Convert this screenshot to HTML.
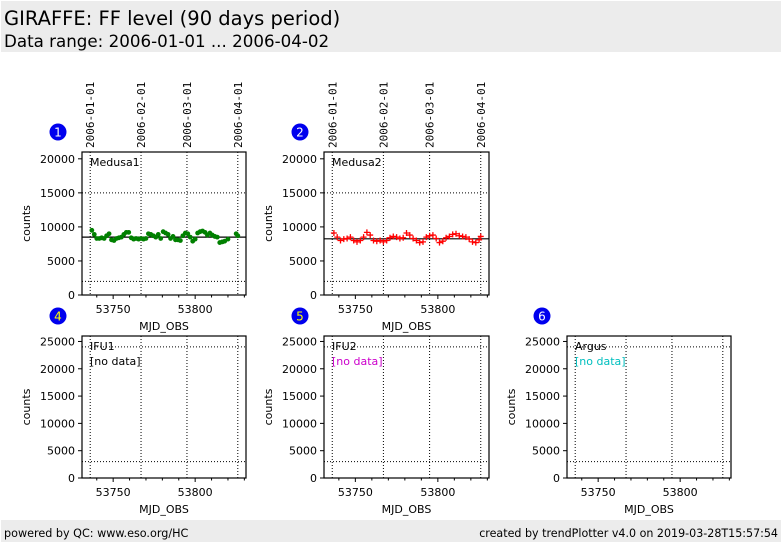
<!DOCTYPE html>
<html><head><meta charset="utf-8"><style>
body{margin:0;width:782px;height:542px;background:#fff;overflow:hidden;font-family:"Liberation Sans","DejaVu Sans",sans-serif}
svg text{font-family:"DejaVu Sans","Liberation Sans",sans-serif}
</style></head><body>
<svg id="c" width="782" height="542">
<rect x="1" y="1" width="780" height="51" fill="#ececec"/>
<text x="4" y="25" font-size="19.5" fill="#000" style="font-family:'DejaVu Sans','Liberation Sans',sans-serif">GIRAFFE: FF level (90 days period)</text>
<text x="4" y="47" font-size="16.7" fill="#000" style="font-family:'DejaVu Sans','Liberation Sans',sans-serif">Data range: 2006-01-01 ... 2006-04-02</text>
<rect x="1" y="520" width="780" height="22" fill="#ececec"/>
<text x="4" y="537" font-size="11.2" style="font-family:'DejaVu Sans','Liberation Sans',sans-serif">powered by QC: www.eso.org/HC</text>
<text x="778" y="537" font-size="11.1" text-anchor="end" style="font-family:'DejaVu Sans','Liberation Sans',sans-serif">created by trendPlotter v4.0 on 2019-03-28T15:57:54</text>
</svg>
<script>
const m1Mjd=[53737,53738.5,53740,53741.5,53743,53744.5,53746,53747.5,53749,53750.5,53752,53753.5,53755,53756.5,53758,53759.5,53761,53762.5,53764,53765.5,53767,53768.5,53770,53771.5,53773,53774.5,53776,53777.5,53779,53780.5,53782,53783.5,53785,53786.5,53788,53789.5,53791,53792.5,53794,53795.5,53797,53798.5,53800,53801.5,53803,53804.5,53806,53807.5,53809,53810.5,53812,53813.5,53815,53816.5,53818,53820,53825,53826];
const m1Val=[9500,8900,8300,8300,8400,8300,8700,9000,8100,8000,8300,8400,8500,8900,9200,9200,8400,8200,8300,8200,8300,8200,8300,9000,8900,8700,8500,8900,8300,9300,9100,8900,8300,8600,8100,8100,8000,8700,9100,9000,8500,7900,8200,9100,9300,9400,9200,8800,9100,8800,8600,8500,7700,7800,7900,8200,9000,8700];
const m2Mjd=[53737,53739,53741,53743,53745,53747,53749,53751,53753,53755,53757,53759,53761,53763,53765,53767,53769,53771,53773,53775,53777,53779,53781,53783,53785,53787,53789,53791,53793,53795,53797,53799,53801,53803,53805,53807,53809,53811,53813,53815,53817,53819,53821,53823,53825,53826];
const m2Val=[9100,8500,8000,8200,8300,8500,8000,7800,8000,8500,9200,8800,8000,7900,8000,7800,8000,8400,8600,8500,8300,8400,9100,8800,8300,8000,7700,7800,8500,8700,8800,8300,7700,7900,8400,8600,8900,9000,8700,8600,8500,8200,7800,7700,8100,8600];
const xTicks=[53750,53800];
const dateLines=[53736,53767,53795,53826];
const dateLabels=['2006-01-01','2006-02-01','2006-03-01','2006-04-01'];
const topTicks=[0,5000,10000,15000,20000];
const botTicks=[0,5000,10000,15000,20000,25000];
const NS='http://www.w3.org/2000/svg';
const svg=document.getElementById('c');
function el(t,a,p){const e=document.createElementNS(NS,t);for(const k in a)e.setAttribute(k,a[k]);(p||svg).appendChild(e);return e;}
const X0=53731,X1=53831;
function panel(o){
 const g=el('g',{});
 
 
 const xs=v=>o.x+(v-X0)/(X1-X0)*o.w;
 const ys=v=>o.y+o.h-v/o.ymax*o.h;
 const b=el('circle',{cx:o.bx,cy:o.y-20,r:8.5,fill:'#0000ee'},g);
 
 const bt=el('text',{x:o.bx,y:o.y-15.5,'font-size':12,'text-anchor':'middle',fill:o.badgeColor||'#fff'},g);bt.textContent=o.num;
 el('rect',{x:o.x,y:o.y,width:o.w,height:o.h,fill:'#fff',stroke:'none'},g);
 dateLines.forEach(d=>el('line',{x1:xs(d),x2:xs(d),y1:o.y,y2:o.y+o.h,stroke:'#000','stroke-width':1,'stroke-dasharray':'1,2'},g));
 o.hlines.forEach(v=>el('line',{x1:o.x,x2:o.x+o.w,y1:ys(v),y2:ys(v),stroke:'#000','stroke-width':1,'stroke-dasharray':'1,2'},g));
 if(o.mean!=null)el('line',{x1:o.x,x2:o.x+o.w,y1:ys(o.mean),y2:ys(o.mean),stroke:'#000','stroke-width':1.2},g);
 if(o.mjd){o.mjd.forEach((d,i)=>{
   let m;
   if(o.marker==='dot'){m=el('circle',{cx:xs(d),cy:ys(o.val[i]),r:2.4,fill:'#008000'},g);}
   else{const cx=xs(d),cy=ys(o.val[i]);m=el('path',{d:`M${cx-3},${cy}H${cx+3}M${cx},${cy-3}V${cy+3}`,stroke:'#ff0000','stroke-width':1.3,fill:'none'},g);}
   
 });}
 el('rect',{x:o.x,y:o.y,width:o.w,height:o.h,fill:'none',stroke:'#000','stroke-width':1.2},g);
 o.yticks.forEach(v=>{el('line',{x1:o.x-4,x2:o.x,y1:ys(v),y2:ys(v),stroke:'#000'},g);
  const t=el('text',{x:o.x-7,y:ys(v)+4,'font-size':11,'text-anchor':'end'},g);t.textContent=v;});
 for(let v=53740;v<=53830;v+=10){const maj=xTicks.includes(v);el('line',{x1:xs(v),x2:xs(v),y1:o.y+o.h,y2:o.y+o.h+(maj?4:2.5),stroke:'#000'},g);}
 xTicks.forEach(v=>{const t=el('text',{x:xs(v),y:o.y+o.h+18,'font-size':11,'text-anchor':'middle'},g);t.textContent=v;});
 const xl=el('text',{x:o.x+o.w/2,y:o.y+o.h+35,'font-size':11,'text-anchor':'middle'},g);xl.textContent='MJD_OBS';
 
 const yl=el('text',{x:0,y:0,'font-size':11,'text-anchor':'middle',transform:`translate(${o.x-52},${o.y+o.h/2}) rotate(-90)`},g);yl.textContent='counts';
 
 const lb=el('text',{x:o.x+8,y:o.y+14,'font-size':11},g);lb.textContent=o.label;
 
 if(o.nodata){const nd=el('text',{x:o.x+8,y:o.y+29,'font-size':11,fill:o.nodata},g);nd.textContent='[no data]';
  }
 if(o.dates){dateLines.forEach((d,i)=>{const t=el('text',{x:0,y:0,'font-size':11,transform:`translate(${xs(d)+4},${o.y-4}) rotate(-90)`,style:'font-family:"DejaVu Sans Mono","Liberation Mono",monospace'},g);t.textContent=dateLabels[i];
  });}
}
panel({name:'panel-medusa1',num:1,bx:58,x:82,y:152,w:164,h:143,ymax:21000,yticks:topTicks,hlines:[15000,2000],mean:8500,label:'Medusa1',mjd:m1Mjd,val:m1Val,marker:'dot',dates:true});
panel({name:'panel-medusa2',num:2,bx:300,x:324,y:152,w:165,h:143,ymax:21000,yticks:topTicks,hlines:[15000,2000],mean:8250,label:'Medusa2',mjd:m2Mjd,val:m2Val,marker:'plus',dates:true});
panel({name:'panel-ifu1',num:4,bx:58,badgeColor:'#ffff00',x:82,y:336,w:164,h:142,ymax:26000,yticks:botTicks,hlines:[24000,3000],mean:null,label:'IFU1',nodata:'#000'});
panel({name:'panel-ifu2',num:5,bx:300,badgeColor:'#ffff00',x:324,y:336,w:165,h:142,ymax:26000,yticks:botTicks,hlines:[24000,3000],mean:null,label:'IFU2',nodata:'#cc00cc'});
panel({name:'panel-argus',num:6,bx:542,x:567,y:336,w:164,h:142,ymax:26000,yticks:botTicks,hlines:[24000,3000],mean:null,label:'Argus',nodata:'#00bfbf'});
</script>
</body></html>
